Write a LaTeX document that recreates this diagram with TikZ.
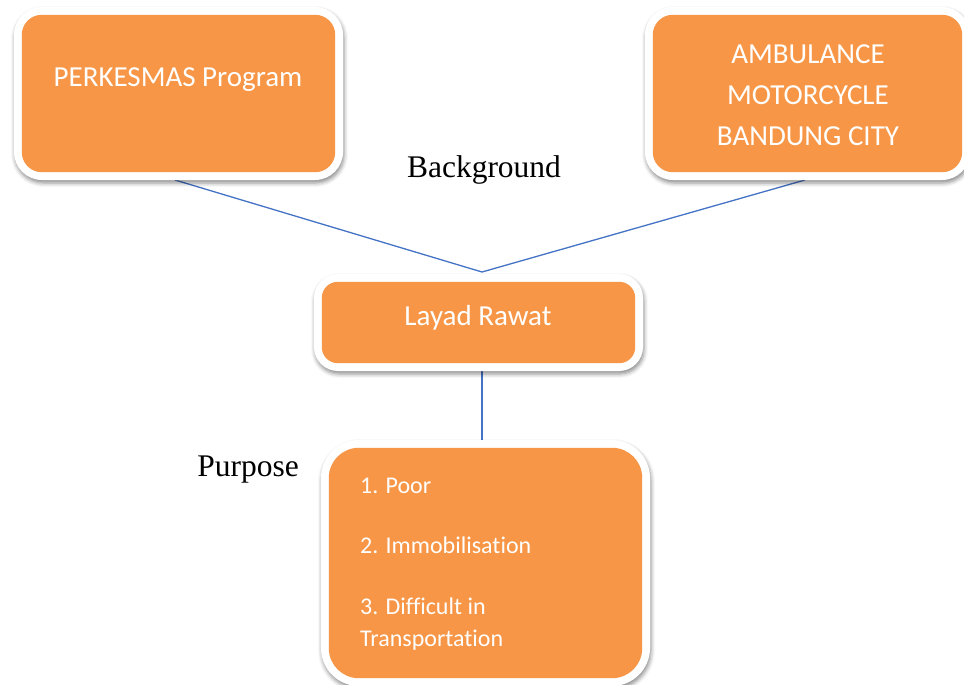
\documentclass[tikz,border=0pt]{standalone}
\usepackage{fontspec}
\setmainfont{Liberation Serif}
\newfontfamily\boxfont[Ligatures=NoCommon]{Carlito}
\usetikzlibrary{shadows.blur,calc}
\definecolor{boxorange}{HTML}{F79646}
\definecolor{linkblue}{HTML}{4472C4}
\tikzset{
  obox/.style={fill=white, rounded corners=28pt, inner sep=0pt, minimum width=#1,
    blur shadow={shadow xshift=1pt, shadow yshift=-3pt, shadow blur radius=4pt, shadow opacity=45}},
  ofill/.style={fill=boxorange, rounded corners=#1},
  btext/.style={text=white, inner sep=0pt, font=\boxfont\fontsize{29}{41}\selectfont},
  stext/.style={text=white, inner sep=0pt, anchor=base west, font=\boxfont\fontsize{24}{32}\selectfont},
  ltext/.style={text=black, inner sep=0pt, font=\fontsize{31.5}{36}\selectfont},
  link/.style={draw=linkblue, line width=1.3pt}
}
\begin{document}
\begin{tikzpicture}[x=1pt,y=-1pt]
\useasboundingbox (0,0) rectangle (964,685);
% connectors (behind boxes)
\coordinate (apex) at (482,272);
\coordinate (c1) at (175,180);
\coordinate (c2) at (805,180);
\coordinate (v1) at (482,368);
\coordinate (v2) at (482,446);
\draw[link] (c1) -- (apex) -- (c2);
\draw[link] (v1) -- (v2);
% boxes (white frame with shadow, orange face)
\node[obox=329pt, minimum height=173pt] (b1) at (178.5,93.5) {};
\node[obox=325pt, minimum height=173pt] (b2) at (807.5,93.5) {};
\node[obox=329pt, minimum height=97pt, rounded corners=24pt] (b3) at (478.5,322.5) {};
\node[obox=329pt, minimum height=246pt, rounded corners=38pt] (b4) at (485.5,563) {};
\fill[ofill=20pt] ($(b1.north west)+(8,8)$) rectangle ($(b1.south east)+(-8,-8)$);
\fill[ofill=20pt] ($(b2.north west)+(8,8)$) rectangle ($(b2.south east)+(-8,-8)$);
\fill[ofill=16pt] ($(b3.north west)+(8,8)$) rectangle ($(b3.south east)+(-8,-8)$);
\fill[ofill=30pt] ($(b4.north west)+(8,8)$) rectangle ($(b4.south east)+(-8,-8)$);
% texts
\node[btext] (t1) at (178,80) {PERKESMAS Program};
\node[btext, align=center] (t2) at (808,95) {AMBULANCE\\MOTORCYCLE\\BANDUNG CITY};
\node[btext] (t3) at (478,318) {Layad Rawat};
\node[stext] (p1) at (360,493) {1. Poor};
\node[stext] (p2) at (360,553) {2. Immobilisation};
\node[stext] (p3) at (360,614) {3. Difficult in};
\node[stext] (p4) at (360,646) {Transportation};
\node[ltext] (bg) at (484,170) {Background};
\node[ltext] (pu) at (248,470) {Purpose};
\end{tikzpicture}
\end{document}
